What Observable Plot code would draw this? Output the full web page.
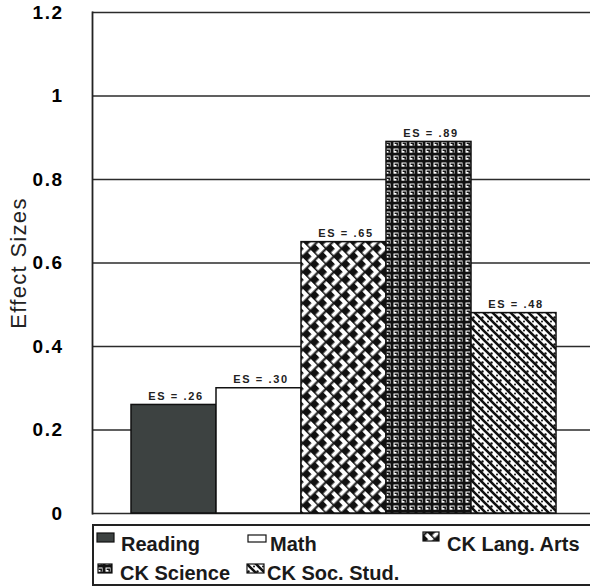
<!DOCTYPE html>
<html>
<head>
<meta charset="utf-8">
<script src="https://cdn.jsdelivr.net/npm/d3@7"></script>
<script src="https://cdn.jsdelivr.net/npm/@observablehq/plot@0.6"></script>
<style>
  body { margin: 0; background: white; font-family: "Liberation Sans", Arial, sans-serif; }
  #chart svg { display: block; }
  #legend { display: block; }
</style>
</head>
<body>
<svg width="0" height="0" style="position:absolute">
  <defs>
    <pattern id="pLang" width="11" height="11" patternUnits="userSpaceOnUse" patternTransform="rotate(45)">
      <rect width="11" height="11" fill="#111"/>
      <path d="M0.5,3 H7.5 V10.5" stroke="white" stroke-width="3.8" fill="none"/>
    </pattern>
    <pattern id="pSci" width="8" height="7" patternUnits="userSpaceOnUse">
      <rect width="8" height="7" fill="#111"/>
      <rect x="1.5" y="1.5" width="5" height="4.2" fill="white"/>
      <path d="M2.6,3.2 H5.2 V5.8" stroke="#111" stroke-width="1.5" fill="none"/>
    </pattern>
    <pattern id="pSoc" width="9" height="9" patternUnits="userSpaceOnUse">
      <rect width="9" height="9" fill="white"/>
      <path d="M-1,-1 L10,10 M-1,8 L1,10 M8,-1 L10,1" stroke="#111" stroke-width="2.6" fill="none"/>
      <circle cx="2" cy="6.5" r="1" fill="#111"/>
      <circle cx="5.5" cy="2.5" r="1.2" fill="#111"/>
    </pattern>
  </defs>
</svg>
<div id="chart"></div>
<svg id="legend" width="590" height="63"></svg>
<script>
const categories = ["Reading", "Math", "CK Lang. Arts", "CK Science", "CK Soc. Stud."];
const effectSizes = [0.26, 0.30, 0.65, 0.89, 0.48];
const barLabels = ["ES = .26", "ES = .30", "ES = .65", "ES = .89", "ES = .48"];
const yTicks = [0, 0.2, 0.4, 0.6, 0.8, 1, 1.2];
const yTickLabels = ["0", "0.2", "0.4", "0.6", "0.8", "1", "1.2"];
const axisTitle = "Effect Sizes";
const fills = ["#3d4241", "white", "url(#pLang)", "url(#pSci)", "url(#pSoc)"];

const data = categories.map((c, i) => ({cat: c, value: effectSizes[i], label: barLabels[i]}));
const font = "Liberation Sans, Arial, sans-serif";

const chart = Plot.plot({
  width: 590,
  height: 524,
  marginTop: 12,
  marginBottom: 11,
  marginLeft: 92,
  marginRight: 0,
  style: {fontFamily: font, color: "black", background: "white"},
  x: {domain: categories, padding: 0, insetLeft: 38, insetRight: 34, axis: null},
  y: {domain: [0, 1.2], axis: null},
  color: {domain: categories, range: fills},
  marks: [
    Plot.ruleY(yTicks, {stroke: "#2b2b2b", strokeWidth: 1.6}),
    Plot.frame({anchor: "left", stroke: "#222", strokeWidth: 1.8}),
    Plot.barY(data, {x: "cat", y: "value", fill: "cat", stroke: "#111", strokeWidth: 1.5, inset: 0}),
    Plot.text(data, {x: "cat", y: "value", text: "label", lineAnchor: "bottom", dy: -5, dx: 2,
      fontSize: 11, fontWeight: "bold", fill: "#222"}),
    Plot.axisY({ticks: yTicks, tickFormat: d => yTickLabels[yTicks.indexOf(d)], tickSize: 0, tickPadding: 29,
      fontSize: 19, fontWeight: "bold", label: null}),
    Plot.text([axisTitle], {frameAnchor: "left", textAnchor: "middle", dx: -74, rotate: -90,
      fontSize: 22, fill: "#222"})
  ]
});
document.getElementById("chart").appendChild(chart);

// letter spacing tweaks
const textGroups = chart.querySelectorAll('g[aria-label="text"]');
if (textGroups[0]) textGroups[0].style.letterSpacing = "1.6px";
if (textGroups[1]) textGroups[1].style.letterSpacing = "1.3px";
const tickGroup = chart.querySelector('g[aria-label="y-axis tick label"]');
if (tickGroup) tickGroup.style.letterSpacing = "1.5px";

// Legend (below the SVG)
const legendPos = [
  {sx: 97, sy: 9, sw: 17, sh: 9, tx: 121, ty: 27},
  {sx: 248, sy: 11, sw: 18, sh: 7, tx: 270, ty: 27},
  {sx: 423, sy: 8, sw: 16, sh: 9, tx: 447, ty: 27},
  {sx: 98, sy: 40, sw: 14, sh: 9, tx: 120, ty: 56},
  {sx: 247, sy: 40, sw: 17, sh: 9, tx: 267, ty: 56}
];
const lg = d3.select("#legend");
lg.append("rect").attr("x", 93).attr("y", 1).attr("width", 600).attr("height", 60)
  .attr("fill", "none").attr("stroke", "#222").attr("stroke-width", 2);
categories.forEach((c, i) => {
  const p = legendPos[i];
  lg.append("rect").attr("x", p.sx).attr("y", p.sy).attr("width", p.sw).attr("height", p.sh)
    .attr("fill", fills[i]).attr("stroke", "#111").attr("stroke-width", 1.2);
  lg.append("text").attr("x", p.tx).attr("y", p.ty).text(c)
    .attr("font-family", font).attr("font-size", 20).attr("font-weight", "bold").attr("fill", "#1a1a1a");
});
</script>
</body>
</html>
